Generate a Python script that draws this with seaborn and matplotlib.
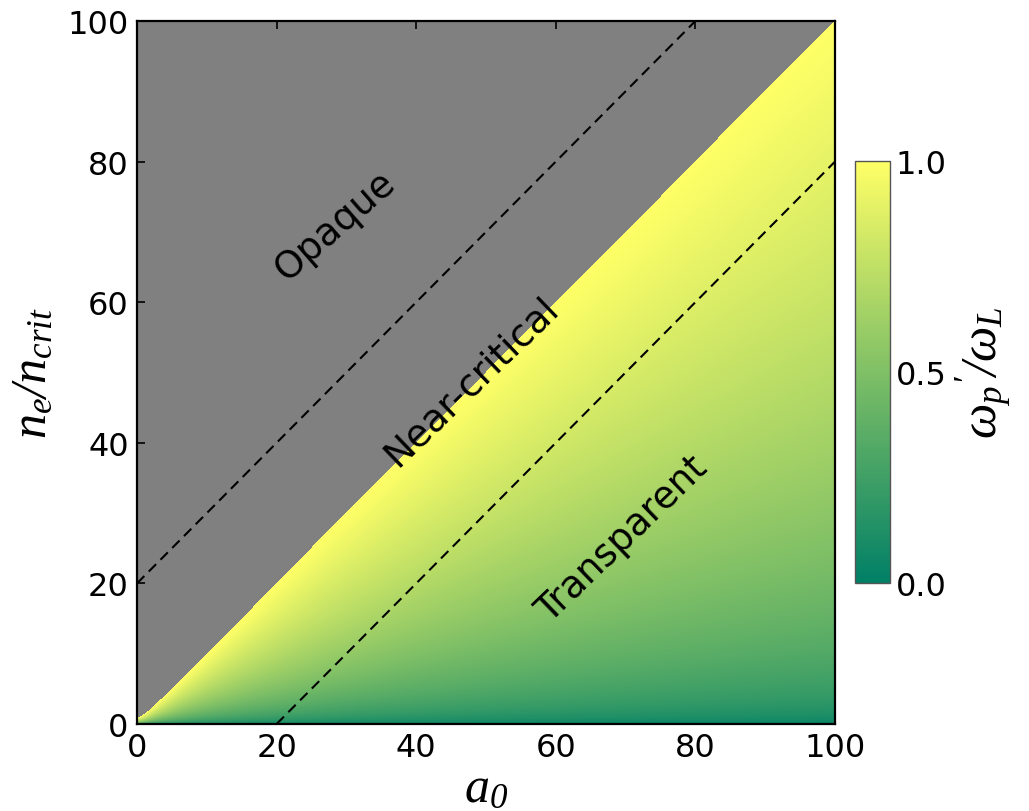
import numpy as np
import pandas as pd
import matplotlib
matplotlib.use("Agg")
import matplotlib.pyplot as plt
import seaborn as sns

sns.set_style("white")
plt.rcParams["font.family"] = ["DejaVu Sans"]
plt.rcParams["mathtext.fontset"] = "custom"
plt.rcParams["mathtext.rm"] = "Liberation Serif:italic"
plt.rcParams["mathtext.it"] = "Liberation Serif:italic"
plt.rcParams["mathtext.bf"] = "Liberation Serif:bold"
for key in ["text.color", "axes.labelcolor", "xtick.color", "ytick.color"]:
    plt.rcParams[key] = "black"

# Parameter space: laser amplitude a0 and electron density n_e / n_crit
N = 700
a0_max = 100.0
ne_max = 100.0
a0 = (np.arange(N) + 0.5) * a0_max / N
ne = (np.arange(N) + 0.5) * ne_max / N

# Relativistically corrected plasma frequency, normalised to the laser frequency
A0, NE = np.meshgrid(a0, ne)
gamma = np.sqrt(1.0 + A0 ** 2)
ratio = np.sqrt(NE / gamma)
field = pd.DataFrame(ratio, index=ne, columns=a0)

tick_values = [0, 20, 40, 60, 80, 100]
tick_labels = ["0", "20", "40", "60", "80", "100"]
cbar_ticks = [0.0, 0.5, 1.0]
cbar_labels = ["0.0", "0.5", "1.0"]

# Reference lines n_e = a0 +/- 20
offsets = [20, -20]

regions = ["Opaque", "Near-critical", "Transparent"]
region_x = [28.4, 48.0, 69.5]
region_y = [71.0, 48.8, 26.3]
region_rot = [41, 44, 44]

W, H = 1029, 812
fig = plt.figure(figsize=(W / 100, H / 100), dpi=100)
ax = fig.add_axes([137 / W, (H - 725) / H, 698 / W, 703 / H])
cax = fig.add_axes([855 / W, (H - 584) / H, 35 / W, 422 / H])

sns.heatmap(field, ax=ax, cmap="summer", vmin=0, vmax=1, mask=ratio > 1,
            cbar_ax=cax, xticklabels=False, yticklabels=False,
            cbar_kws={"ticks": cbar_ticks}, rasterized=True)
ax.set_facecolor("#808080")
ax.set_xlim(0, N)
ax.set_ylim(0, N)

sx = N / a0_max
sy = N / ne_max

for s in ax.spines.values():
    s.set_visible(True)
    s.set_linewidth(1.6)
    s.set_color("black")

ax.set_xticks([v * sx for v in tick_values])
ax.set_xticklabels(tick_labels)
ax.set_yticks([v * sy for v in tick_values])
ax.set_yticklabels(tick_labels, rotation=0)
ax.tick_params(direction="in", length=6, width=1.2, labelsize=23,
               top=True, right=True, bottom=True, left=True, pad=6,
               colors="black")

for off in offsets:
    xs = np.array([max(0, -off), min(a0_max, ne_max - off)])
    ys = xs + off
    ax.plot(xs * sx, ys * sy, color="black", lw=1.5, dashes=(5, 3))

for txt, x, y, r in zip(regions, region_x, region_y, region_rot):
    ax.text(x * sx, y * sy, txt, rotation=r, fontsize=27, color="black",
            ha="center", va="center", rotation_mode="anchor", zorder=5)

ax.set_xlabel(r"$a_{0}$", fontsize=36, labelpad=0, color="black")
ax.set_ylabel(r"$n_e/n_{crit}$", fontsize=36, labelpad=8, color="black")

cbar = ax.collections[0].colorbar
cbar.outline.set_visible(True)
cbar.outline.set_linewidth(1.0)
cbar.outline.set_edgecolor("#555555")
cbar.set_ticks(cbar_ticks)
cbar.set_ticklabels(cbar_labels)
cax.tick_params(length=0, labelsize=23, pad=4, colors="black")
cbar.set_label(r"$\omega_p{'}/\omega_L$", fontsize=36, labelpad=6,
               color="black")

fig.savefig("out.png", dpi=100)
